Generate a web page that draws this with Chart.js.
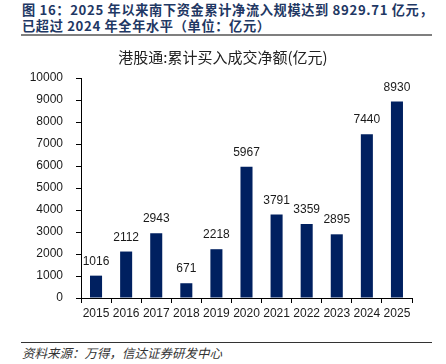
<!DOCTYPE html>
<html><head><meta charset="utf-8">
<script src="https://cdn.jsdelivr.net/npm/chart.js@4"></script>
<style>
html,body{margin:0;padding:0;background:#fff;width:446px;height:364px;overflow:hidden;position:relative}
#hdr{position:absolute;left:22px;top:2px;font-family:"Noto Sans CJK SC","Liberation Sans",sans-serif;font-weight:bold;font-size:13.2px;line-height:16px;color:#1f3864;white-space:nowrap;letter-spacing:0.65px}
#hline{position:absolute;left:21px;top:34px;width:411px;height:2px;background:#7f7f7f}
#ctitle{position:absolute;left:0;top:47px;width:446px;text-align:center;font-family:"Noto Sans CJK SC",serif;font-size:15px;line-height:20px;color:#222;white-space:nowrap}
#wrap{position:absolute;left:0;top:40px;width:446px;height:290px}
#fline{position:absolute;left:21px;top:342px;width:411px;height:1px;background:#333}
#ftr{position:absolute;left:22px;top:344px;font-family:"Noto Sans CJK SC",sans-serif;font-style:italic;font-size:12.5px;line-height:18px;color:#333;white-space:nowrap}
</style></head>
<body>
<div id="hdr">图 16：2025 年以来南下资金累计净流入规模达到 8929.71 亿元，<br>已超过 2024 年全年水平（单位：亿元）</div>
<div id="hline"></div>
<div id="wrap"><canvas id="c" width="446" height="290"></canvas></div>
<div id="ctitle"></div>
<div id="fline"></div>
<div id="ftr">资料来源：万得，信达证券研发中心</div>
<script>
const categories = ["2015","2016","2017","2018","2019","2020","2021","2022","2023","2024","2025"];
const values = [1016, 2112, 2943, 671, 2218, 5967, 3791, 3359, 2895, 7440, 8930];
const chartTitle = "港股通:累计买入成交净额(亿元)";
document.getElementById('ctitle').textContent = chartTitle;

const valueLabels = {
  id: 'valueLabels',
  afterDatasetsDraw(chart) {
    const ctx = chart.ctx;
    const meta = chart.getDatasetMeta(0);
    ctx.save();
    ctx.font = '12px "Liberation Sans", Arial, sans-serif';
    ctx.fillStyle = '#1a1a1a';
    ctx.textAlign = 'center';
    ctx.textBaseline = 'alphabetic';
    meta.data.forEach((bar, i) => {
      ctx.fillText(String(values[i]), bar.x, bar.y - 11);
    });
    ctx.restore();
  }
};

new Chart(document.getElementById('c'), {
  type: 'bar',
  data: {
    labels: categories,
    datasets: [{
      data: values,
      backgroundColor: '#002060',
      borderWidth: 0,
      barPercentage: 0.4,
      categoryPercentage: 1.0
    }]
  },
  options: {
    responsive: false,
    animation: false,
    devicePixelRatio: 1,
    layout: { padding: { left: 0, right: 34, top: 38, bottom: 0 } },
    plugins: {
      legend: { display: false },
      tooltip: { enabled: false },
      title: { display: false }
    },
    scales: {
      x: {
        afterFit(scale) { scale.height = 32; },
        grid: { display: true, drawOnChartArea: false, drawTicks: true, tickLength: 5, color: '#000', offset: true },
        border: { display: true, color: '#000', width: 1 },
        ticks: { color: '#1a1a1a', font: { family: '"Liberation Sans", Arial, sans-serif', size: 12 }, padding: 3, maxRotation: 0, autoSkip: false }
      },
      y: {
        min: 0, max: 10000,
        afterFit(scale) { scale.width = 81; },
        grid: { display: true, drawOnChartArea: false, drawTicks: true, tickLength: 5, color: '#000' },
        border: { display: true, color: '#000', width: 1 },
        ticks: { stepSize: 1000, color: '#1a1a1a', font: { family: '"Liberation Sans", Arial, sans-serif', size: 12 }, padding: 13,
                 callback: (v) => String(v) }
      }
    }
  },
  plugins: [valueLabels]
});
</script>
</body></html>
